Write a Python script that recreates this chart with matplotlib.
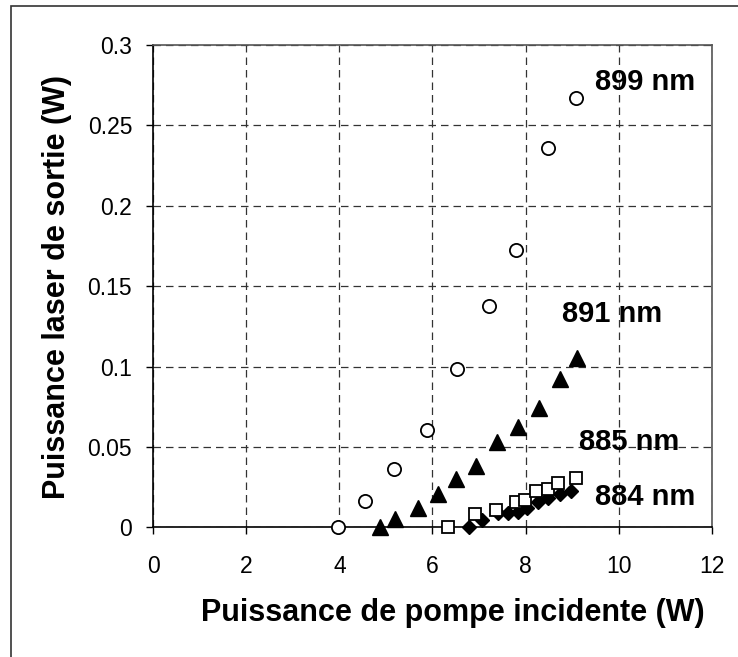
import matplotlib
matplotlib.use("Agg")
import matplotlib.pyplot as plt
from matplotlib.patches import Rectangle

plt.rcParams['font.family'] = ['Liberation Sans', 'DejaVu Sans']

# 899 nm (open circles)
x_899 = [3.98, 4.55, 5.18, 5.89, 6.53, 7.21, 7.80, 8.48, 9.07]
y_899 = [0.0, 0.0165, 0.036, 0.0605, 0.0986, 0.1375, 0.1722, 0.2358, 0.2669]
# 891 nm (filled triangles)
x_891 = [4.88, 5.20, 5.68, 6.12, 6.51, 6.94, 7.39, 7.83, 8.29, 8.73, 9.10]
y_891 = [0.0, 0.005, 0.012, 0.0207, 0.0298, 0.038, 0.0528, 0.0625, 0.0739, 0.0921, 0.105]
# 885 nm (open squares)
x_885 = [6.33, 6.92, 7.37, 7.80, 7.99, 8.23, 8.48, 8.70, 9.08]
y_885 = [0.0, 0.008, 0.0107, 0.0159, 0.017, 0.0225, 0.0238, 0.0273, 0.0304]
# 884 nm (filled diamonds)
x_884 = [6.78, 7.07, 7.41, 7.62, 7.83, 8.03, 8.26, 8.47, 8.73, 8.97]
y_884 = [0.0, 0.0045, 0.009, 0.009, 0.0097, 0.0122, 0.016, 0.018, 0.021, 0.0225]

labels = ["899 nm", "891 nm", "885 nm", "884 nm"]
label_x = [10.57, 9.86, 10.22, 10.57]
label_y = [0.2768, 0.1329, 0.0532, 0.019]

xticks = [0, 2, 4, 6, 8, 10, 12]
yticks = [0, 0.05, 0.1, 0.15, 0.2, 0.25, 0.3]
ytick_labels = ["0", "0.05", "0.1", "0.15", "0.2", "0.25", "0.3"]

fig = plt.figure(figsize=(7.38, 6.57), dpi=100)
fig.patches.append(Rectangle((11/738, -0.1), 1.2, 1 - 6/657 + 0.1, transform=fig.transFigure,
                             fill=False, edgecolor='#333333', linewidth=1.2, zorder=0))
ax = fig.add_axes([153/738, 1 - 527.3/657, (712-153)/738, (527.3-45)/657])

ax.plot(x_884, y_884, linestyle='none', marker='D', markersize=7, color='black', clip_on=False, zorder=3)
ax.plot(x_885, y_885, linestyle='none', marker='s', markersize=8, markerfacecolor='white',
        markeredgecolor='black', markeredgewidth=1.3, clip_on=False, zorder=4)
ax.plot(x_891, y_891, linestyle='none', marker='^', markersize=12, color='black', clip_on=False, zorder=3)
ax.plot(x_899, y_899, linestyle='none', marker='o', markersize=9.5, markerfacecolor='white',
        markeredgecolor='black', markeredgewidth=1.3, clip_on=False, zorder=3)

for t, lx, ly in zip(labels, label_x, label_y):
    ax.text(lx, ly, t, fontsize=21, fontweight='bold', ha='center', va='center', zorder=5)

ax.set_xlim(0, 12)
ax.set_ylim(0, 0.3)
ax.set_xticks(xticks)
ax.set_xticklabels([str(v) for v in xticks])
ax.set_yticks(yticks)
ax.set_yticklabels(ytick_labels)
ax.tick_params(axis='both', direction='out', length=5, width=1, labelsize=16.5)
ax.tick_params(axis='x', pad=15)
ax.tick_params(axis='y', pad=10)
ax.grid(True, linestyle=(0, (6, 4)), color='#333333', linewidth=0.9)
ax.set_axisbelow(True)
for s in ['left', 'bottom']:
    ax.spines[s].set_color('black')
    ax.spines[s].set_linewidth(1.2)
for s in ['top', 'right']:
    ax.spines[s].set_color('#555555')
    ax.spines[s].set_linewidth(1.2)

ax.set_xlabel("Puissance de pompe incidente (W)", fontsize=22, fontweight='bold')
ax.set_ylabel("Puissance laser de sortie (W)", fontsize=22, fontweight='bold')
ax.xaxis.set_label_coords((453-153)/559, -(613-527.3)/482.3)
ax.yaxis.set_label_coords(-(153-57)/559, (527.3-287)/482.3)
ax.xaxis.label.set_va('center')
ax.yaxis.label.set_va('center')

fig.savefig("out.png", dpi=100)
